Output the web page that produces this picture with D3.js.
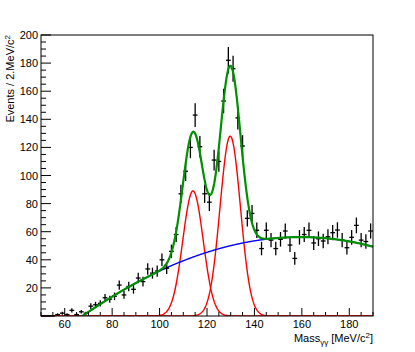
<!DOCTYPE html>
<html>
<head>
<meta charset="utf-8">
<script src="https://cdnjs.cloudflare.com/ajax/libs/d3/7.8.5/d3.min.js"></script>
<style>
body { margin: 0; background: #fff; }
text { font-family: "Liberation Sans", Arial, sans-serif; fill: #000; }
</style>
</head>
<body>
<script>
// histogram: 2 MeV bins between 50 and 190
var massBins = [51,53,55,57,59,61,63,65,67,69,71,73,75,77,79,81,83,85,87,89,
  91,93,95,97,99,101,103,105,107,109,111,113,115,117,119,121,123,125,127,129,
  131,133,135,137,139,141,143,145,147,149,151,153,155,157,159,161,163,165,167,169,
  171,173,175,177,179,181,183,185,187,189];
var events = [0,0,0,1,2,1,4,1,3,2,7,8,9,13,12,14,22,15,21,19,
  27,24.5,33.5,30.5,32,40,34,46,58,87,103,120,143,120.5,87,81,111,110,153,182,
  176,141,121,69.5,73,61,48,61,54,48,54.6,60.5,50.5,41,56,58,61,52,55,53.4,
  56.4,59.3,61.2,54,48.6,56,64.5,54,53,60.5];
var errors = [0,0,0,0.9,1.1,0.9,1.5,0.9,1.3,1,2,2.1,2.2,2.6,2.5,2.7,3.3,2.8,3.3,3.1,
  3.7,3.5,4.1,3.9,4,4.5,4.1,4.8,5.4,6.5,7,7.7,8.4,7.7,6.5,6.3,7.4,7.3,8.7,9.4,
  9.3,8.3,7.7,5.8,6,5.5,4.8,5.5,5.1,4.8,5.2,5.4,5,4.5,5.2,5.3,5.5,5,5.2,5.1,
  5.3,5.4,5.5,5.1,4.9,5.2,5.6,5.1,5.1,5.4];

// fit: two gaussians on a cubic background (t = mass - 100)
var peakMean = [114.1, 129.8];
var peakSigma = [4.3, 4.3];
var peakAmp = [89, 128];
var bgCoef = [32, 0.7917, -0.006132, -0.00000587];

var xTicks = [60, 80, 100, 120, 140, 160, 180];
var yTicks = [20, 40, 60, 80, 100, 120, 140, 160, 180, 200];

var width = 415,
    height = 352;
var fLeft = 41, fRight = 373, fTop = 35, fBottom = 316;

var svg = d3.select("body").append("svg")
    .attr("width", width)
    .attr("height", height);

var x = d3.scaleLinear().domain([50, 190]).range([fLeft, fRight]);
var y = d3.scaleLinear().domain([0, 200]).range([fBottom, fTop]);

svg.append("clipPath").attr("id", "frame")
  .append("rect")
    .attr("x", fLeft).attr("y", fTop)
    .attr("width", fRight - fLeft).attr("height", fBottom - fTop);

function bg(m) {
  var t = m - 100;
  return bgCoef[0] + bgCoef[1] * t + bgCoef[2] * t * t + bgCoef[3] * t * t * t;
}
function gaus(m, i) {
  var z = (m - peakMean[i]) / peakSigma[i];
  return peakAmp[i] * Math.exp(-0.5 * z * z);
}

var grid = d3.range(50, 190.01, 0.25);
var line = d3.line()
    .x(function(d) { return x(d[0]); })
    .y(function(d) { return y(d[1]); });

var curves = svg.append("g").attr("clip-path", "url(#frame)");

// red signal components
[0, 1].forEach(function(i) {
  curves.append("path")
      .attr("d", line(grid.map(function(m) { return [m, gaus(m, i)]; })))
      .attr("fill", "none")
      .attr("stroke", "#ff0000")
      .attr("stroke-width", 1.4);
});

// blue background
curves.append("path")
    .attr("d", line(grid.map(function(m) { return [m, bg(m)]; })))
    .attr("fill", "none")
    .attr("stroke", "#0000ff")
    .attr("stroke-width", 1.4);

// data points with error bars
var pts = svg.append("g")
    .attr("stroke", "#000")
    .attr("stroke-width", 1.3);
massBins.forEach(function(c, i) {
  pts.append("line")
      .attr("x1", x(c - 1)).attr("x2", x(c + 1))
      .attr("y1", y(events[i])).attr("y2", y(events[i]));
  if (errors[i] > 0) {
    pts.append("line")
        .attr("x1", x(c)).attr("x2", x(c))
        .attr("y1", y(events[i] - errors[i])).attr("y2", y(events[i] + errors[i]));
  }
});

// green total fit
var curves2 = svg.append("g").attr("clip-path", "url(#frame)");
curves2.append("path")
    .attr("d", line(grid.map(function(m) { return [m, bg(m) + gaus(m, 0) + gaus(m, 1)]; })))
    .attr("fill", "none")
    .attr("stroke", "#009000")
    .attr("stroke-width", 2.2);

// frame
svg.append("rect")
    .attr("x", fLeft).attr("y", fTop)
    .attr("width", fRight - fLeft).attr("height", fBottom - fTop)
    .attr("fill", "none")
    .attr("stroke", "#000")
    .attr("stroke-width", 1);

// x axis ticks (inward)
var xAxis = svg.append("g").attr("stroke", "#000").attr("stroke-width", 1);
d3.range(50, 191, 5).forEach(function(v) {
  var major = v % 20 == 0;
  xAxis.append("line")
      .attr("x1", x(v)).attr("x2", x(v))
      .attr("y1", fBottom).attr("y2", fBottom - (major ? 8 : 4));
});
svg.selectAll(".xlab")
    .data(xTicks)
  .enter().append("text")
    .attr("class", "xlab")
    .attr("x", function(d) { return x(d); })
    .attr("y", 328)
    .attr("text-anchor", "middle")
    .attr("font-size", 11)
    .text(function(d) { return d; });

// y axis ticks (inward)
var yAxis = svg.append("g").attr("stroke", "#000").attr("stroke-width", 1);
d3.range(0, 201, 5).forEach(function(v) {
  var major = v % 20 == 0;
  yAxis.append("line")
      .attr("x1", fLeft).attr("x2", fLeft + (major ? 10 : 5))
      .attr("y1", y(v)).attr("y2", y(v));
});
svg.selectAll(".ylab")
    .data(yTicks)
  .enter().append("text")
    .attr("class", "ylab")
    .attr("x", 38)
    .attr("y", function(d) { return y(d) + 4; })
    .attr("text-anchor", "end")
    .attr("font-size", 11)
    .text(function(d) { return d; });

// axis titles
var xt = svg.append("text")
    .attr("x", fRight)
    .attr("y", 342)
    .attr("text-anchor", "end")
    .attr("font-size", 11);
xt.append("tspan").text("Mass");
xt.append("tspan").attr("font-size", 8).attr("dy", 3).text("γγ");
xt.append("tspan").attr("dy", -3).text(" [MeV/c");
xt.append("tspan").attr("font-size", 8).attr("dy", -4).text("2");
xt.append("tspan").attr("dy", 4).text("]");

var yt = svg.append("text")
    .attr("transform", "translate(14," + fTop + ") rotate(-90)")
    .attr("text-anchor", "end")
    .attr("font-size", 11);
yt.append("tspan").text("Events / 2.MeV/c");
yt.append("tspan").attr("font-size", 8).attr("dy", -4).text("2");
</script>
</body>
</html>
